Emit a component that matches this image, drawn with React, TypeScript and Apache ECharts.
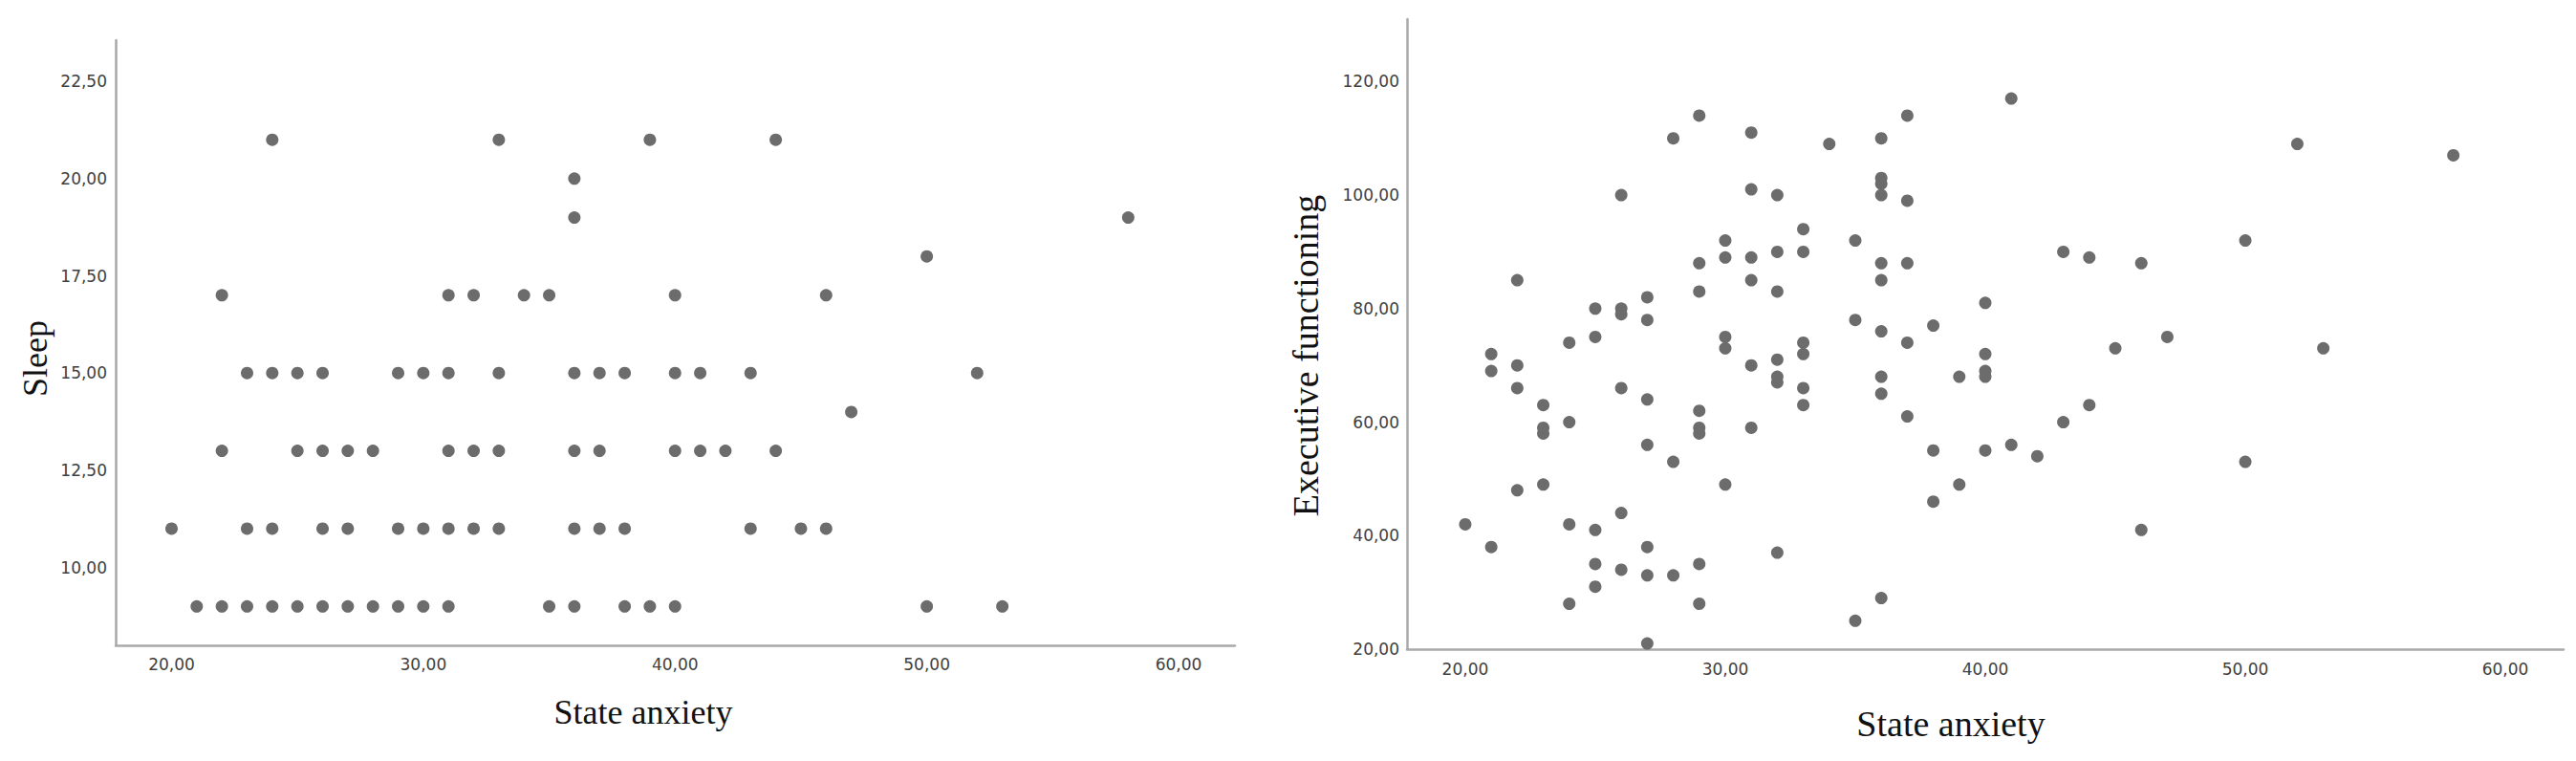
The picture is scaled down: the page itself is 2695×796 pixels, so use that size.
import React, { useEffect, useRef } from "react";
import * as echarts from "echarts";

// Left panel: State anxiety vs Sleep
const sleepAnxiety = [
  24, 33, 39, 44,
  36,
  36, 58,
  50,
  22, 31, 32, 34, 35, 40, 46,
  23, 24, 25, 26, 29, 30, 31, 33, 36, 37, 38, 40, 41, 43, 52,
  47,
  22, 25, 26, 27, 28, 31, 32, 33, 36, 37, 40, 41, 42, 44,
  20, 23, 24, 26, 27, 29, 30, 31, 32, 33, 36, 37, 38, 43, 45, 46,
  21, 22, 23, 24, 25, 26, 27, 28, 29, 30, 31, 35, 36, 38, 39, 40, 50, 53,
];
const sleepScore = [
  21, 21, 21, 21,
  20,
  19, 19,
  18,
  17, 17, 17, 17, 17, 17, 17,
  15, 15, 15, 15, 15, 15, 15, 15, 15, 15, 15, 15, 15, 15, 15,
  14,
  13, 13, 13, 13, 13, 13, 13, 13, 13, 13, 13, 13, 13, 13,
  11, 11, 11, 11, 11, 11, 11, 11, 11, 11, 11, 11, 11, 11, 11, 11,
  9, 9, 9, 9, 9, 9, 9, 9, 9, 9, 9, 9, 9, 9, 9, 9, 9, 9,
];

// Right panel: State anxiety vs Executive functioning
const efAnxiety = [
  20,
  21, 21, 21,
  22, 22, 22, 22,
  23, 23, 23, 23,
  24, 24, 24, 24,
  25, 25, 25, 25, 25,
  26, 26, 26, 26, 26, 26,
  27, 27, 27, 27, 27, 27, 27,
  28, 28, 28,
  29, 29, 29, 29, 29, 29, 29, 29,
  30, 30, 30, 30, 30,
  31, 31, 31, 31, 31, 31,
  32, 32, 32, 32, 32, 32, 32,
  33, 33, 33, 33, 33, 33,
  34,
  35, 35, 35,
  36, 36, 36, 36, 36, 36, 36, 36, 36, 36,
  37, 37, 37, 37, 37,
  38, 38, 38,
  39, 39,
  40, 40, 40, 40, 40,
  41, 41,
  42,
  43, 43,
  44, 44,
  45,
  46, 46,
  47,
  50, 50,
  52,
  53,
  58,
];
const efScore = [
  42,
  72, 69, 38,
  85, 70, 66, 48,
  63, 59, 58, 49,
  74, 60, 42, 28,
  80, 75, 41, 35, 31,
  100, 80, 79, 66, 44, 34,
  82, 78, 64, 56, 38, 33, 21,
  110, 53, 33,
  114, 88, 83, 62, 59, 58, 35, 28,
  92, 89, 75, 73, 49,
  111, 101, 89, 85, 70, 59,
  100, 90, 83, 71, 68, 67, 37,
  94, 90, 74, 72, 66, 63,
  109,
  92, 78, 25,
  110, 103, 102, 100, 88, 85, 76, 68, 65, 29,
  114, 99, 88, 74, 61,
  77, 55, 46,
  68, 49,
  81, 72, 69, 68, 55,
  117, 56,
  54,
  90, 60,
  89, 63,
  73,
  88, 41,
  75,
  92, 53,
  109,
  73,
  107,
];

const anxietyTicks = [20, 30, 40, 50, 60];
const sleepTicks = [10, 12.5, 15, 17.5, 20, 22.5];
const efTicks = [20, 40, 60, 80, 100, 120];

const fmt = (v: number) => v.toFixed(2).replace(".", ",");

export default function App() {
  const ref = useRef<HTMLDivElement>(null);

  useEffect(() => {
    if (!ref.current) return;
    const chart = echarts.init(ref.current, undefined, { renderer: "svg" });

    const axisLine = { show: true, lineStyle: { color: "#a9a9a9", width: 2.5 } };
    const label = (vals: number[], margin: number) => ({
      customValues: vals,
      formatter: (v: number) => fmt(v),
      color: "#404040",
      fontFamily: "DejaVu Sans",
      fontSize: 17,
      margin,
    });
    const titleStyle = {
      fontFamily: "Liberation Serif",
      fill: "#111",
    };

    chart.setOption({
      animation: false,
      backgroundColor: "#ffffff",
      grid: [
        { left: 121, top: 42, width: 1171, height: 633 },
        { left: 1472, top: 20, width: 1210, height: 659 },
      ],
      xAxis: [
        {
          type: "value",
          gridIndex: 0,
          min: 17.78,
          max: 62.24,
          axisLine,
          axisTick: { show: false },
          splitLine: { show: false },
          axisLabel: label(anxietyTicks, 11),
        },
        {
          type: "value",
          gridIndex: 1,
          min: 17.76,
          max: 62.24,
          axisLine,
          axisTick: { show: false },
          splitLine: { show: false },
          axisLabel: label(anxietyTicks, 12),
        },
      ],
      yAxis: [
        {
          type: "value",
          gridIndex: 0,
          min: 8,
          max: 23.56,
          axisLine,
          axisTick: { show: false },
          splitLine: { show: false },
          axisLabel: label(sleepTicks, 9),
        },
        {
          type: "value",
          gridIndex: 1,
          min: 20,
          max: 131,
          axisLine,
          axisTick: { show: false },
          splitLine: { show: false },
          axisLabel: label(efTicks, 8),
        },
      ],
      series: [
        {
          type: "scatter",
          xAxisIndex: 0,
          yAxisIndex: 0,
          symbolSize: 13,
          itemStyle: { color: "#6c6c6c", opacity: 1 },
          data: sleepAnxiety.map((x, i) => [x, sleepScore[i]]),
        },
        {
          type: "scatter",
          xAxisIndex: 1,
          yAxisIndex: 1,
          symbolSize: 13,
          itemStyle: { color: "#6c6c6c", opacity: 1 },
          data: efAnxiety.map((x, i) => [x, efScore[i]]),
        },
      ],
      graphic: [
        {
          type: "text",
          x: 673,
          y: 745,
          style: {
            ...titleStyle,
            text: "State anxiety",
            fontSize: 36,
            textAlign: "center",
            textVerticalAlign: "middle",
          },
        },
        {
          type: "text",
          x: 2041,
          y: 757,
          style: {
            ...titleStyle,
            text: "State anxiety",
            fontSize: 38,
            textAlign: "center",
            textVerticalAlign: "middle",
          },
        },
        {
          type: "text",
          x: 37,
          y: 375,
          rotation: Math.PI / 2,
          style: {
            ...titleStyle,
            text: "Sleep",
            fontSize: 36,
            textAlign: "center",
            textVerticalAlign: "middle",
          },
        },
        {
          type: "text",
          x: 1366,
          y: 372,
          rotation: Math.PI / 2,
          style: {
            ...titleStyle,
            text: "Executive functioning",
            fontSize: 38,
            textAlign: "center",
            textVerticalAlign: "middle",
          },
        },
      ],
    });

    return () => chart.dispose();
  }, []);

  return (
    <div
      ref={ref}
      style={{ position: "absolute", left: 0, top: 0, width: 2695, height: 796 }}
    />
  );
}
